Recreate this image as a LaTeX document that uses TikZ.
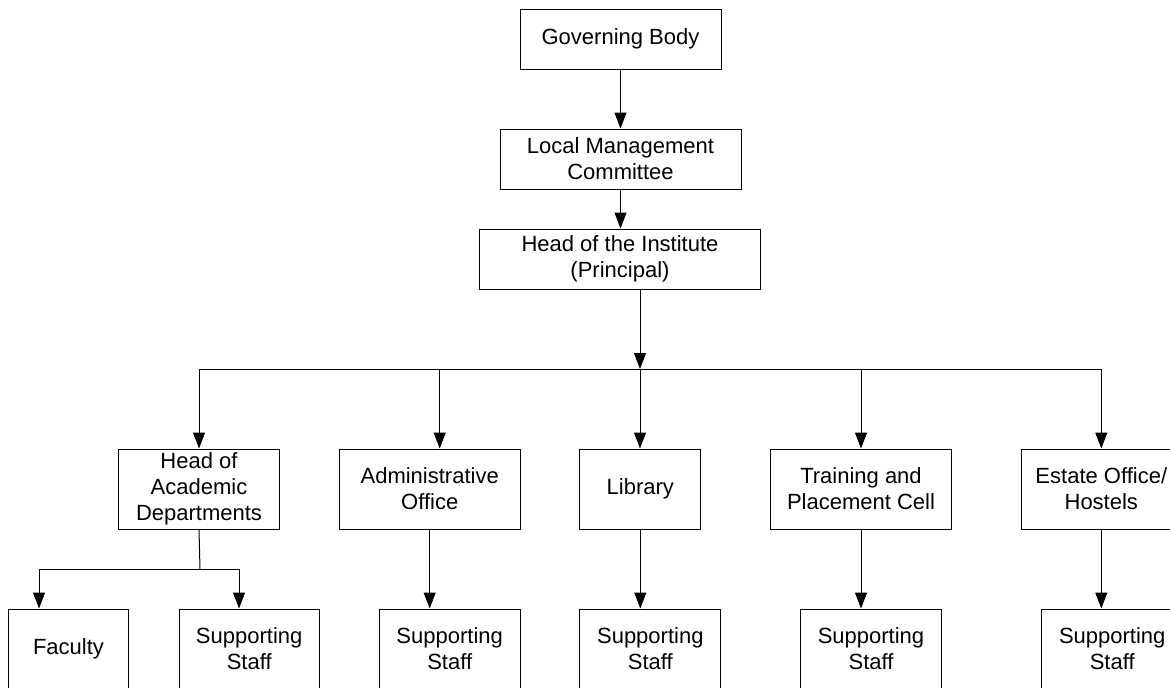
\documentclass[tikz,border=0pt]{standalone}
\usepackage{fontspec}
\setmainfont{Liberation Sans}
\usetikzlibrary{arrows.meta}
\tikzset{
  box/.style={draw=black, line width=1pt, fill=white, inner sep=0pt, align=center,
    font=\fontsize{22}{26}\selectfont},
  conn/.style={draw=black, line width=1pt},
  arr/.style={conn, -{Triangle[length=16pt,width=12pt]}}
}
\begin{document}
\begin{tikzpicture}[x=1pt,y=-1pt]
\useasboundingbox (0,0) rectangle (1170,688);
\clip (0,0) rectangle (1170,688);
\fill[white] (0,0) rectangle (1170,688);
% top chain
\node[box, minimum width=201pt, minimum height=60pt] (gb) at (620.5,39) {Governing Body};
\node[box, minimum width=241pt, minimum height=60pt] (lmc) at (620.5,159) {Local Management\\Committee};
\node[box, minimum width=281pt, minimum height=60pt] (hoi) at (620,259) {Head of the Institute\\(Principal)};
% second level
\node[box, minimum width=160.6pt, minimum height=80pt] (hoad) at (199,489) {Head of\\Academic\\Departments};
\node[box, minimum width=180.7pt, minimum height=80pt] (adm) at (429.7,489) {Administrative\\Office};
\node[box, minimum width=120.7pt, minimum height=80pt] (lib) at (640.3,489) {Library};
\node[box, minimum width=180.6pt, minimum height=80pt] (tpc) at (861,489) {Training and\\Placement Cell};
\node[box, minimum width=160pt, minimum height=80pt] (est) at (1101.3,489) {Estate Office/\\Hostels};
% third level
\node[box, minimum width=120.4pt, minimum height=80pt] (fac) at (68.5,649) {Faculty};
\node[box, minimum width=140.3pt, minimum height=80pt] (ss1) at (249.2,649) {Supporting\\Staff};
\node[box, minimum width=140.7pt, minimum height=80pt] (ss2) at (449.7,649) {Supporting\\Staff};
\node[box, minimum width=140.7pt, minimum height=80pt] (ss3) at (650.3,649) {Supporting\\Staff};
\node[box, minimum width=140.6pt, minimum height=80pt] (ss4) at (871,649) {Supporting\\Staff};
\node[box, minimum width=141pt, minimum height=80pt] (ss5) at (1112.2,649) {Supporting\\Staff};
% coordinates
\coordinate (bus) at (640,369);
\coordinate (split) at (200,569);
% connectors top
\draw[arr] (gb.south) -- (gb.south |- lmc.north);
\draw[arr] (lmc.south) -- (lmc.south |- hoi.north);
\draw[arr] (hoi.south -| bus) -- (bus);
\draw[conn] (hoad.north |- bus) -- (est.north |- bus);
\draw[arr] (hoad.north |- bus) -- (hoad.north);
\draw[arr] ([xshift=10pt]adm.north |- bus) -- ([xshift=10pt]adm.north);
\draw[arr] (bus) -- (bus |- lib.north);
\draw[arr] (tpc.north |- bus) -- (tpc.north);
\draw[arr] (est.north |- bus) -- (est.north);
% connectors bottom
\draw[conn] (hoad.south) -- (split);
\draw[arr] (split) -| ([xshift=-29.5pt]fac.north);
\draw[arr] (split) -| ([xshift=-10.2pt]ss1.north);
\draw[arr] (adm.south) -- (adm.south |- ss2.north);
\draw[arr] (lib.south) -- (lib.south |- ss3.north);
\draw[arr] (tpc.south) -- (tpc.south |- ss4.north);
\draw[arr] (est.south) -- (est.south |- ss5.north);
\end{tikzpicture}
\end{document}
